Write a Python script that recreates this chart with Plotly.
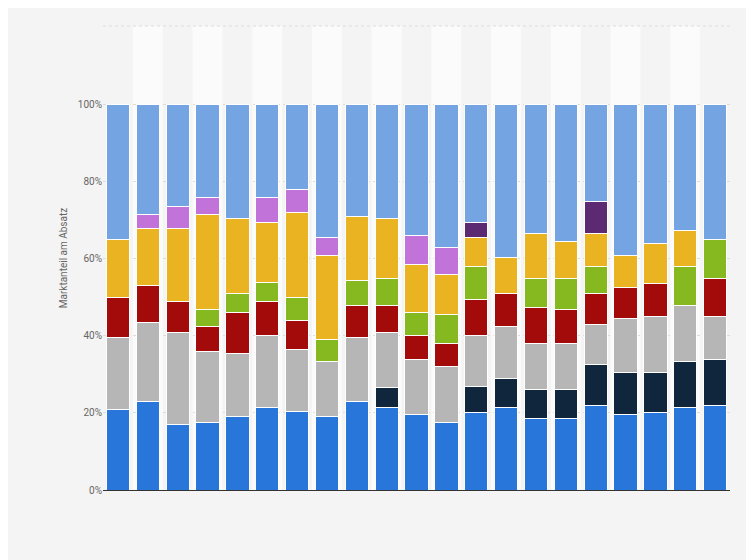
import plotly.graph_objects as go

# bar positions (no labels shown in the chart)
bars = list(range(1, 22))

# share per segment in %, bottom to top
blue = [21, 23, 17, 17.5, 19, 21.5, 20.5, 19, 23, 21.5, 19.5, 17.5, 20, 21.5, 18.5, 18.5, 22, 19.5, 20, 21.5, 22]
navy = [0, 0, 0, 0, 0, 0, 0, 0, 0, 5, 0, 0, 7, 7.5, 7.5, 7.5, 10.5, 11, 10.5, 12, 12]
grey = [18.5, 20.5, 24, 18.5, 16.5, 18.5, 16, 14.5, 16.5, 14.5, 14.5, 14.5, 13, 13.5, 12, 12, 10.5, 14, 14.5, 14.5, 11]
red = [10.5, 9.5, 8, 6.5, 10.5, 9, 7.5, 0, 8.5, 7, 6, 6, 9.5, 8.5, 9.5, 9, 8, 8, 8.5, 0, 10]
green = [0, 0, 0, 4.5, 5, 5, 6, 5.5, 6.5, 7, 6, 7.5, 8.5, 0, 7.5, 8, 7, 0, 0, 10, 10]
gold = [15, 15, 19, 24.5, 19.5, 15.5, 22, 22, 16.5, 15.5, 12.5, 10.5, 7.5, 9.5, 11.5, 9.5, 8.5, 8.5, 10.5, 9.5, 0]
violet = [0, 3.5, 5.5, 4.5, 0, 6.5, 6, 4.5, 0, 0, 7.5, 7, 0, 0, 0, 0, 0, 0, 0, 0, 0]
purple = [0, 0, 0, 0, 0, 0, 0, 0, 0, 0, 0, 0, 4, 0, 0, 0, 8.5, 0, 0, 0, 0]
lightblue = [35, 28.5, 26.5, 24, 29.5, 24, 22, 34.5, 29, 29.5, 34, 37, 30.5, 39.5, 33.5, 35.5, 25, 39, 36, 32.5, 35]

series = [
    (blue, "#2876d9"),
    (navy, "#10263d"),
    (grey, "#b6b6b6"),
    (red, "#a30a0a"),
    (green, "#86b820"),
    (gold, "#e9b322"),
    (violet, "#c273d9"),
    (purple, "#5c2a73"),
    (lightblue, "#74a4e1"),
]

fig = go.Figure()
for vals, col in series:
    fig.add_trace(go.Bar(x=bars, y=vals, marker=dict(color=col, line=dict(color="#ffffff", width=1)),
                         hoverinfo="y"))

# alternating column shading
for b in bars[1::2]:
    fig.add_shape(type="rect", xref="x", yref="paper", x0=b - 0.5, x1=b + 0.5, y0=0, y1=1,
                  fillcolor="#fbfbfb", line_width=0, layer="below")

fig.update_layout(
    width=754, height=560,
    barmode="stack", bargap=0.22, showlegend=False,
    paper_bgcolor="#f4f4f4", plot_bgcolor="#f4f4f4",
    margin=dict(l=95, r=32, t=18, b=78),
    font=dict(family="Roboto, sans-serif", size=10, color="#666666"),
    xaxis=dict(range=[0.5, 21.5], showticklabels=False, showgrid=False, ticks="",
               showline=True, linecolor="#333333", linewidth=1),
    yaxis=dict(range=[0, 120.5], tickvals=[0, 20, 40, 60, 80, 100],
               ticktext=["0%", "20%", "40%", "60%", "80%", "100%"],
               showgrid=True, gridcolor="#dddddd", griddash="dot", zeroline=False,
               title=dict(text="Marktanteil am Absatz", font=dict(size=10, color="#666666"), standoff=8)),
)
fig.add_shape(type="line", xref="paper", yref="paper", x0=0, x1=1, y0=1, y1=1,
              line=dict(color="#dddddd", width=1, dash="dot"))

fig.write_html("out.html")
